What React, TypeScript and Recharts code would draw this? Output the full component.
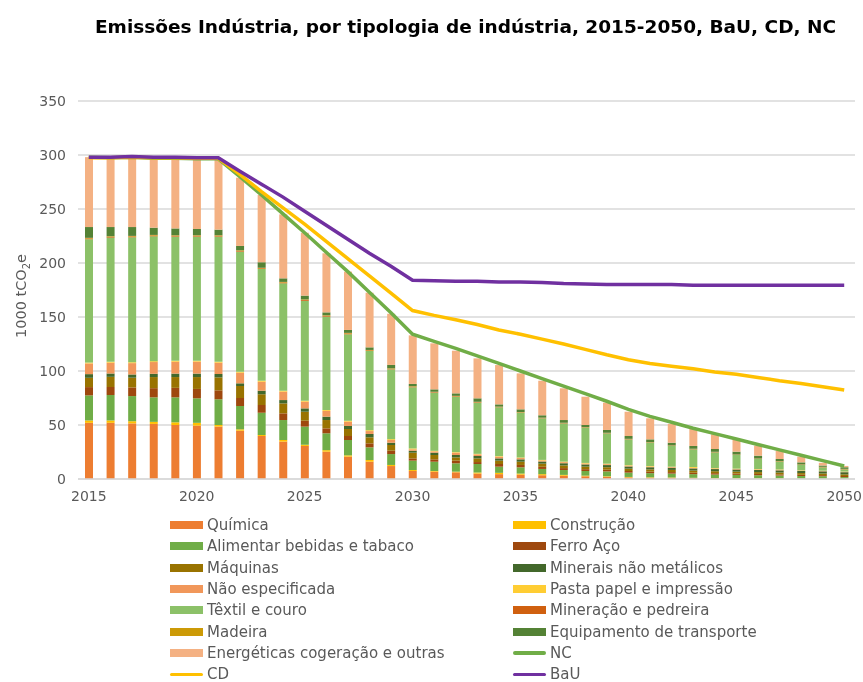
import React from 'react';
import { ComposedChart, Bar, Line, XAxis, YAxis, CartesianGrid } from 'recharts';

const years = [2015, 2016, 2017, 2018, 2019, 2020, 2021, 2022, 2023, 2024, 2025, 2026, 2027, 2028, 2029, 2030, 2031, 2032, 2033, 2034, 2035, 2036, 2037, 2038, 2039, 2040, 2041, 2042, 2043, 2044, 2045, 2046, 2047, 2048, 2049, 2050];

const quimica = [52, 52, 51.5, 51, 50, 49.4, 48.5, 44.7, 39.8, 34.6, 30.6, 25.3, 20.7, 16, 12, 7.4, 6.8, 6.2, 5, 4.5, 4, 3.5, 3, 2.5, 2, 1.5, 1.2, 1, 0.8, 0.6, 0.5, 0.4, 0.3, 0.2, 0.2, 0.1];
const construcao = [2.2, 2.2, 2, 1.9, 2.5, 2.6, 1.5, 1.3, 0.9, 1.5, 1.1, 1.4, 1.2, 1.6, 1, 0.9, 0.6, 0.6, 1, 1.2, 1, 1, 0.8, 0.6, 0.5, 0.4, 0.4, 0.4, 0.3, 0.3, 0.3, 0.3, 0.3, 0.2, 0.2, 0.2];
const alimentar = [23.2, 23.6, 23.3, 22.7, 23.1, 22.7, 23.8, 21.6, 20.7, 18.5, 16.8, 15.6, 14.2, 11.7, 10.1, 8.7, 8.6, 7.7, 7.9, 5.7, 5.8, 4.8, 4.5, 4.3, 4.5, 4, 3.8, 3.6, 3.4, 3.2, 3, 2.8, 2.6, 2.4, 2.2, 1.5];
const ferroAco = [7.7, 7.4, 8, 8.5, 8.8, 8.7, 8.3, 7.4, 7.1, 6.2, 5.5, 4.6, 3.7, 3.7, 3.1, 2.1, 2.2, 2.5, 1.8, 2.5, 2.2, 2, 1.8, 1.7, 1.6, 1.5, 1.4, 1.4, 1.3, 1.3, 1.2, 1.2, 1.1, 1.1, 1, 1];
const maquinas = [8.6, 9.4, 9, 10.3, 10, 11, 12, 11.1, 9.9, 9.2, 8.3, 7.7, 6.5, 5.6, 5.3, 5.3, 4, 3, 3.4, 3.1, 3, 2.9, 2.5, 2.4, 2.3, 2.2, 2.1, 2, 2, 1.8, 1.8, 1.7, 1.7, 1.6, 1.5, 1.5];
const minerais = [3.4, 3.1, 3, 3, 3.2, 3.2, 3.1, 2.5, 3.4, 3.1, 3.1, 3.1, 2.8, 3.1, 2.1, 1.8, 2.2, 2.2, 2.2, 2.1, 2.2, 2, 2, 2, 2, 2, 2, 2, 2, 2, 2, 2, 2, 2, 2, 2];
const naoEspecificada = [9.9, 10, 10.5, 10.9, 11, 11.1, 10.5, 9.8, 8.3, 7.8, 6.2, 5.3, 4, 2.7, 2.5, 1.3, 1.2, 2.2, 1.5, 1.6, 1.2, 1, 1, 0.9, 0.8, 0.7, 0.6, 0.6, 0.5, 0.5, 0.4, 0.4, 0.4, 0.3, 0.3, 0.3];
const pastaPapel = [0.8, 0.8, 0.8, 0.8, 0.8, 0.8, 0.8, 0.8, 0.8, 0.8, 0.8, 0.8, 0.8, 0.8, 0.8, 0.8, 0.5, 0.5, 0.5, 0.5, 0.5, 0.5, 0.5, 0.5, 0.5, 0.5, 0.5, 0.4, 0.8, 0.4, 0.4, 0.4, 0.4, 0.3, 0.3, 0.3];
const textil = [114.2, 115, 115.7, 115.6, 115, 114.9, 115.9, 111.3, 103.5, 99.5, 92.6, 86.5, 80.1, 73.3, 64.6, 56.6, 53.9, 51.3, 47.4, 45.2, 41.5, 38.5, 35.4, 32.6, 28.1, 23.9, 21.6, 19.2, 16.4, 14.6, 12.6, 9.3, 7.2, 4.9, 3.1, 2];
const mineracao = [0.8, 0.8, 0.8, 0.8, 0.8, 0.8, 0.8, 0.8, 0.8, 0.8, 0.8, 0.8, 0.8, 0.6, 0.6, 0.6, 0.5, 0.5, 0.5, 0.35, 0.35, 0.35, 0.35, 0.3, 0.3, 0.3, 0.3, 0.3, 0.3, 0.3, 0.3, 0.3, 0.3, 0.3, 0.3, 0.3];
const madeira = [0.5, 0.5, 0.5, 0.5, 0.5, 0.5, 0.5, 0.5, 0.5, 0.5, 0.5, 0.5, 0.5, 0.4, 0.4, 0.4, 0.3, 0.3, 0.3, 0.25, 0.25, 0.25, 0.25, 0.2, 0.2, 0.2, 0.2, 0.2, 0.2, 0.2, 0.2, 0.2, 0.2, 0.2, 0.2, 0.2];
const equipamento = [10, 8.5, 8.2, 6.7, 6.3, 5.8, 5.2, 4, 4.9, 3.3, 3.5, 2.7, 2.7, 2.4, 3.1, 2.1, 2.2, 2.3, 3.2, 2.1, 2.5, 2.2, 2.5, 2, 2.6, 2.6, 2.6, 2.5, 2.6, 2.6, 2.6, 2.6, 2, 1.9, 1.2, 1.5];
const energeticas = [64.7, 64.2, 64.7, 64.3, 65, 65, 65.6, 63.2, 62.4, 59.2, 58.2, 54.7, 54, 50.6, 47.4, 45, 42.6, 39.5, 37, 36.4, 33.3, 32, 29.4, 26.2, 25.3, 22.5, 19.5, 17.4, 15.7, 13.6, 11.4, 9.3, 7.5, 5.3, 2.5, 1.2];

const nc = [298, 297.5, 298, 297, 297, 296.5, 296.5, 280, 263, 245.5, 228, 210, 192, 173, 154, 134, 127.5, 121, 114, 107, 100, 93, 86, 79, 72, 64.5, 58, 52.5, 47, 42, 37, 32, 27, 22, 17, 12];
const cd = [297.5, 297.5, 298, 297.5, 297.5, 297, 297, 282, 266, 251, 236, 220, 204, 188, 172, 156, 151.5, 147.5, 143, 138, 134, 129.5, 125, 120, 115, 110.5, 107, 104.5, 102, 99, 97, 94, 91, 88.5, 85.5, 82.5];
const bau = [298, 298, 298.5, 298, 298, 297.5, 297.5, 285, 273, 261, 248, 235, 222, 209, 197, 184, 183.5, 183, 183, 182.5, 182.5, 182, 181, 180.5, 180, 180, 180, 180, 179.5, 179.5, 179.5, 179.5, 179.5, 179.5, 179.5, 179.5];

const yTicks = [0, 50, 100, 150, 200, 250, 300, 350];

const barSeries = [
  { key: 'quimica', name: 'Química', color: '#ED7D31', values: quimica },
  { key: 'construcao', name: 'Construção', color: '#FFC000', values: construcao },
  { key: 'alimentar', name: 'Alimentar bebidas e tabaco', color: '#70AD47', values: alimentar },
  { key: 'ferroAco', name: 'Ferro Aço', color: '#9E480E', values: ferroAco },
  { key: 'maquinas', name: 'Máquinas', color: '#997300', values: maquinas },
  { key: 'minerais', name: 'Minerais não metálicos', color: '#43682B', values: minerais },
  { key: 'naoEspecificada', name: 'Não especificada', color: '#F1975A', values: naoEspecificada },
  { key: 'pastaPapel', name: 'Pasta papel e impressão', color: '#FFCD33', values: pastaPapel },
  { key: 'textil', name: 'Têxtil e couro', color: '#8CC168', values: textil },
  { key: 'mineracao', name: 'Mineração e pedreira', color: '#D0600F', values: mineracao },
  { key: 'madeira', name: 'Madeira', color: '#CC9A06', values: madeira },
  { key: 'equipamento', name: 'Equipamento de transporte', color: '#548235', values: equipamento },
  { key: 'energeticas', name: 'Energéticas cogeração e outras', color: '#F4B183', values: energeticas },
];

const lineSeries = [
  { key: 'nc', name: 'NC', color: '#70AD47', values: nc },
  { key: 'cd', name: 'CD', color: '#FFC000', values: cd },
  { key: 'bau', name: 'BaU', color: '#7030A0', values: bau },
];

const data = years.map((y, i) => {
  const row: Record<string, number | string> = { year: String(y) };
  barSeries.forEach((s) => { row[s.key] = s.values[i]; });
  lineSeries.forEach((s) => { row[s.key] = s.values[i]; });
  return row;
});

const FONT = '"DejaVu Sans", sans-serif';
const TEXT = '#595959';

const legendItems = [
  ...barSeries.map((s) => ({ name: s.name, color: s.color, kind: 'bar' })),
  ...lineSeries.map((s) => ({ name: s.name, color: s.color, kind: 'line' })),
];

export default function App() {
  return (
    <div style={{ position: 'fixed', left: 8, top: 8, width: 855, height: 674, overflow: 'hidden', fontFamily: FONT }}>
      <div
        style={{
          position: 'absolute',
          left: 0,
          width: 915,
          top: 7,
          textAlign: 'center',
          fontWeight: 700,
          fontSize: 18.5,
          lineHeight: '24px',
          color: '#000',
          whiteSpace: 'nowrap',
        }}
      >
        Emissões Indústria, por tipologia de indústria, 2015-2050, BaU, CD, NC
      </div>
      <svg width={40} height={674} style={{ position: 'absolute', left: 0, top: 0 }}>
        <text
          transform="translate(18,288) rotate(-90)"
          textAnchor="middle"
          fill={TEXT}
          fontSize={14.5}
          fontFamily={FONT}
        >
          <tspan>1000 tCO</tspan>
          <tspan fontSize={10} dy={4}>2</tspan>
          <tspan dy={-4}>e</tspan>
        </text>
      </svg>
      <div style={{ position: 'absolute', left: 0, top: 0 }}>
        <ComposedChart
          width={855}
          height={674}
          data={data}
          margin={{ top: 93, right: 8, left: 0, bottom: 173 }}
          barSize={8}
        >
          <CartesianGrid vertical={false} stroke="#D9D9D9" strokeWidth={1.3} />
          <XAxis
            dataKey="year"
            interval={4}
            tickLine={false}
            axisLine={{ stroke: '#D9D9D9', strokeWidth: 1.3 }}
            tick={{ fill: TEXT, fontSize: 14, fontFamily: FONT }}
            tickMargin={6}
            height={30}
          />
          <YAxis
            domain={[0, 350]}
            ticks={yTicks}
            axisLine={false}
            tickLine={false}
            width={70}
            tick={{ fill: TEXT, fontSize: 14, fontFamily: FONT }}
            tickMargin={6}
          />
          {barSeries.map((s) => (
            <Bar key={s.key} dataKey={s.key} name={s.name} stackId="a" fill={s.color} isAnimationActive={false} />
          ))}
          {lineSeries.map((s) => (
            <Line
              key={s.key}
              dataKey={s.key}
              name={s.name}
              stroke={s.color}
              strokeWidth={3.5}
              dot={false}
              type="linear"
              isAnimationActive={false}
            />
          ))}
        </ComposedChart>
      </div>
      {legendItems.map((it, i) => {
        const col = i % 2;
        const row = Math.floor(i / 2);
        const left = col === 0 ? 162 : 505;
        const top = 517 + row * 21.35 - 8;
        return (
          <div
            key={it.name}
            style={{
              position: 'absolute',
              left,
              top,
              height: 16,
              display: 'flex',
              alignItems: 'center',
              fontSize: 15,
              lineHeight: '16px',
              color: TEXT,
              whiteSpace: 'nowrap',
            }}
          >
            {it.kind === 'bar' ? (
              <span style={{ display: 'inline-block', width: 33, height: 8, background: it.color, marginRight: 4 }} />
            ) : (
              <span style={{ display: 'inline-block', width: 33, height: 3.5, borderRadius: 2, background: it.color, marginRight: 4 }} />
            )}
            <span>{it.name}</span>
          </div>
        );
      })}
    </div>
  );
}
